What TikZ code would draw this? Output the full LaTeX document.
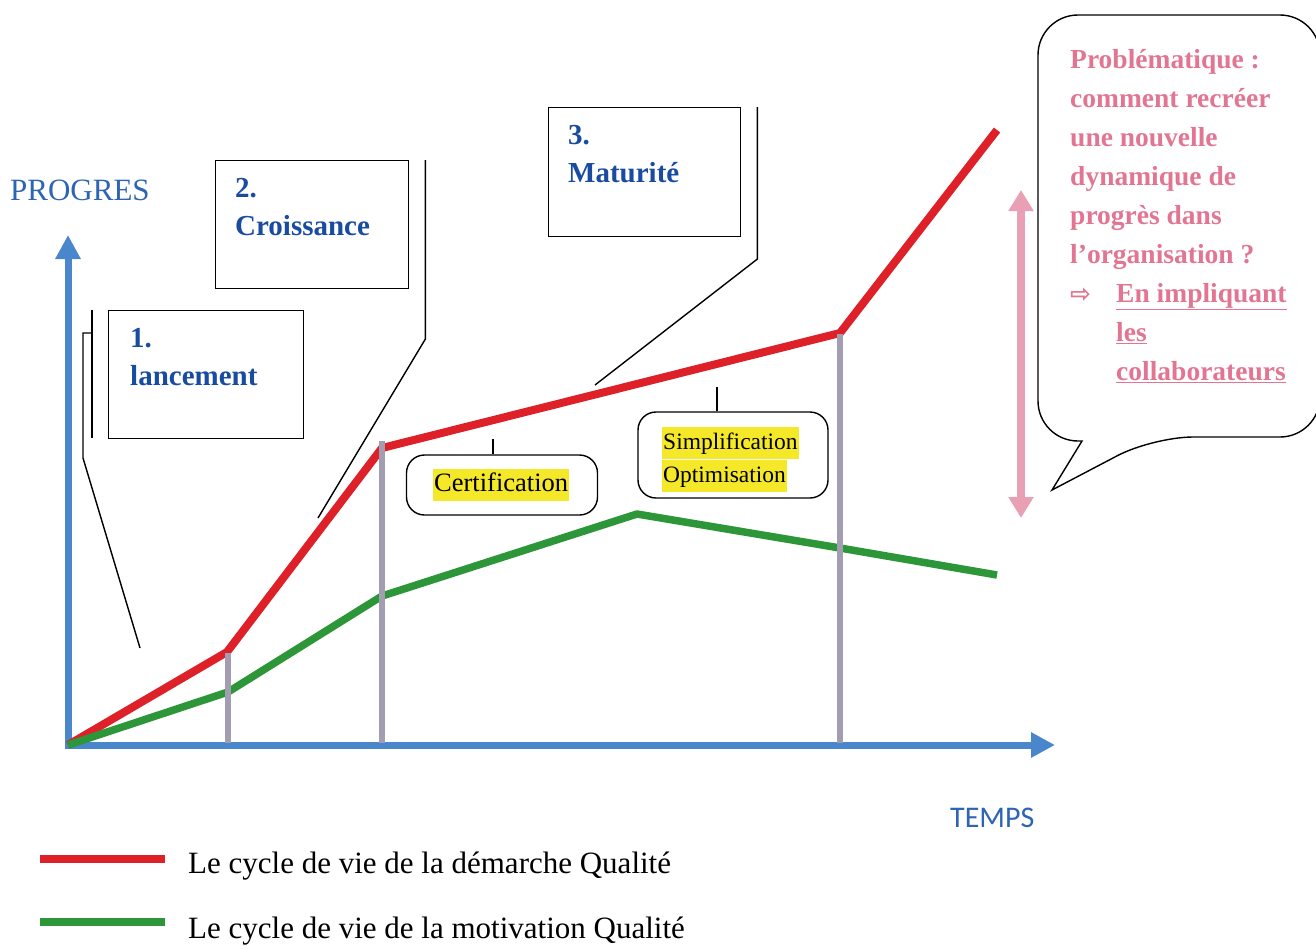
\documentclass[tikz,border=0pt]{standalone}
\usepackage{fontspec}
\setmainfont{Liberation Serif}
\newfontfamily\calfont{Carlito}
\newfontfamily\symfont{DejaVu Sans}
\usetikzlibrary{arrows.meta}

\definecolor{axisblue}{RGB}{74,134,204}
\definecolor{titleblue}{RGB}{45,100,180}
\definecolor{stageblue}{RGB}{25,75,160}
\definecolor{qualred}{RGB}{222,32,40}
\definecolor{motivgreen}{RGB}{44,150,56}
\definecolor{bargrey}{RGB}{163,157,178}
\definecolor{probpink}{RGB}{226,118,146}
\definecolor{gappink}{RGB}{234,160,180}
\definecolor{hlyellow}{RGB}{245,232,40}

\newcommand{\hlt}[1]{{\setlength{\fboxsep}{1pt}\colorbox{hlyellow}{\strut #1}}}

\begin{document}
\begin{tikzpicture}
  [x=1pt,y=-1pt,
   every node/.style={inner sep=0pt},
   axis/.style={draw=axisblue,line width=7pt,line join=miter},
   redline/.style={draw=qualred,line width=8pt,line join=round},
   greenline/.style={draw=motivgreen,line width=7.5pt,line join=round},
   phasebar/.style={draw=bargrey,line width=6.5pt},
   callbox/.style={draw,line width=1.4pt,anchor=north west},
   leader/.style={draw,line width=1.4pt},
   stagetxt/.style={text=stageblue,font=\fontsize{29}{38}\selectfont\bfseries,align=left,anchor=north west},
   tagbox/.style={draw,line width=1.4pt,rounded corners=18pt},
   tagtxt/.style={font=\fontsize{23.5}{30}\selectfont,align=left}]
  \useasboundingbox (0,0) rectangle (1316,948);

  % axes
  \coordinate (o) at (68,745);
  \coordinate (ytop) at (68,235);
  \coordinate (xend) at (1055,745);
  \draw[axis,{Triangle[width=24pt,length=24pt]}-{Triangle[width=24pt,length=24pt]}] (ytop) |- (xend);
  \node[text=titleblue,font=\fontsize{31}{31}\selectfont,anchor=base west] (progres) at (10,200) {PROGRES};
  \node[text=titleblue,font=\calfont\fontsize{30}{30}\selectfont,anchor=base west] (temps) at (950,827) {TEMPS};

  % the two curves
  \coordinate (r1) at (227,652);
  \coordinate (r2) at (382,448);
  \coordinate (r3) at (840,333);
  \coordinate (r4) at (997,130);
  \coordinate (g1) at (228,692);
  \coordinate (g2) at (382,596);
  \coordinate (g3) at (637,514);
  \coordinate (g4) at (840,548);
  \coordinate (g5) at (997,575);
  \draw[redline] (o) -- (r1) -- (r2) -- (r3) -- (r4);
  \draw[greenline] (o) -- (g1) -- (g2) -- (g3) -- (g4) -- (g5);

  % phase limits
  \coordinate (p1) at (228,653);
  \coordinate (p2) at (382,441);
  \coordinate (p3) at (840,334);
  \foreach \p in {p1,p2,p3}
    \draw[phasebar] (\p) -- (\p |- 0,743);

  % stage callouts
  \node[callbox,minimum width=195pt,minimum height=128pt] (b1) at (108,310) {};
  \node[stagetxt] (t1) at (130,328) {1.\\lancement};
  \node[callbox,minimum width=193pt,minimum height=128pt] (b2) at (215,160) {};
  \node[stagetxt] (t2) at (235,178) {2.\\Croissance};
  \node[callbox,minimum width=192pt,minimum height=129pt] (b3) at (548,107) {};
  \node[stagetxt] (t3) at (568,125) {3.\\Maturit\'e};
  \coordinate (c1) at (140,648);
  \coordinate (c2) at (318,518);
  \coordinate (c3) at (595,385);
  \draw[leader] (b1.north west) ++(-16,0) -- ++(0,128);
  \draw[leader] (b1.north west) ++(-16,23) -- ++(-9,0) -- ++(0,125) -- (c1);
  \draw[leader] (b2.north east) ++(16,0) -- ++(0,179) -- (c2);
  \draw[leader] (b3.north east) ++(16,0) -- ++(0,152) -- (c3);

  % actions
  \node[tagbox,minimum width=191pt,minimum height=60pt] (cert) at (502,485) {};
  \node[tagtxt,font=\fontsize{26.5}{30}\selectfont,anchor=base west] (certt) at (433,491) {\hlt{Certification}};
  \node[tagbox,minimum width=190pt,minimum height=86pt] (simp) at (733,455) {};
  \node[tagtxt,anchor=north west] (simpt) at (662,427) {\hlt{Simplification}\\\hlt{Optimisation}};
  \draw[leader] ([xshift=-9pt]cert.north) -- ++(0,-15);
  \draw[leader] ([xshift=-16pt]simp.north) -- ++(0,-24);

  % problem statement
  \coordinate (gtop) at (1021,190);
  \coordinate (gbot) at (1021,518);
  \draw[draw=gappink,line width=8pt,{Triangle[width=24pt,length=21pt]}-{Triangle[width=24pt,length=21pt]}] (gtop) -- (gbot);
  \draw[line width=1.4pt,rounded corners=40pt] (1038,250) -- (1038,15) -- (1320,15) -- (1320,437) -- (1153,437)
    [sharp corners] -- (1052,490) -- (1082,441) [rounded corners=40pt] -- (1038,441) -- (1038,250);
  \node[text=probpink,font=\fontsize{27.5}{39}\selectfont\bfseries,align=left,anchor=north west] (prob) at (1070,49)
    {Probl\'ematique :\\comment recr\'eer\\une nouvelle\\dynamique de\\progr\`es dans\\l'organisation ?\\
     \makebox[46pt][l]{\symfont\fontsize{25}{25}\selectfont ⇨}\underline{En impliquant}\\
     \hspace*{46pt}\underline{les}\\\hspace*{46pt}\underline{collaborateurs}};

  % legend
  \coordinate (lr) at (40,859);
  \coordinate (lg) at (40,922);
  \draw[qualred,line width=8pt] (lr) -- ++(125,0);
  \draw[motivgreen,line width=8pt] (lg) -- ++(125,0);
  \node[font=\fontsize{31}{31}\selectfont,anchor=base west] (leg1) at (188,873) {Le cycle de vie de la d\'emarche Qualit\'e};
  \node[font=\fontsize{31}{31}\selectfont,anchor=base west] (leg2) at (188,938) {Le cycle de vie de la motivation Qualit\'e};
\end{tikzpicture}
\end{document}
